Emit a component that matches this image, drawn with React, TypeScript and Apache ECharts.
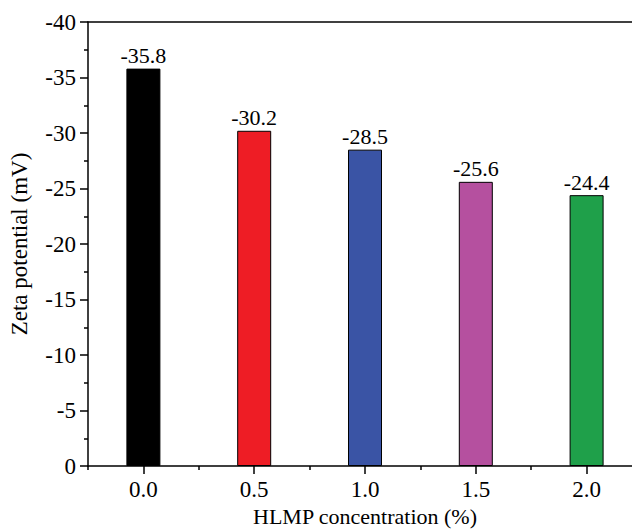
import React, { useEffect, useRef } from "react";
import * as echarts from "echarts";

const categories = ["0.0", "0.5", "1.0", "1.5", "2.0"];
const values = [-35.8, -30.2, -28.5, -25.6, -24.4];
const barColors = ["#000000", "#EE1D25", "#3A54A5", "#B5509F", "#1FA04A"];
const yTitle = "Zeta potential (mV)";
const xTitle = "HLMP concentration (%)";

const FONT = "'Liberation Serif', 'Times New Roman', serif";

export default function App() {
  const ref = useRef<HTMLDivElement>(null);
  useEffect(() => {
    if (!ref.current) return;
    const chart = echarts.init(ref.current, undefined, { renderer: "svg" });
    const textStyle = { fontFamily: FONT, fontSize: 23, color: "#000" };
    chart.setOption({
      animation: false,
      backgroundColor: "#fff",
      textStyle,
      grid: { left: 88, right: -10, top: 22, bottom: 63, containLabel: false, outerBoundsMode: "none" },
      xAxis: [
        {
          type: "category",
          data: categories,
          position: "bottom",
          name: xTitle,
          nameLocation: "middle",
          nameGap: 37,
          nameTextStyle: { ...textStyle, fontSize: 22 },
          axisLine: { show: true, lineStyle: { color: "#000", width: 1.5 } },
          axisTick: { show: true, alignWithLabel: true, length: 8, inside: false, lineStyle: { color: "#000", width: 1.5 } },
          axisLabel: { ...textStyle, margin: 12 },
          splitLine: { show: false },
        },
        {
          type: "category",
          data: categories,
          position: "bottom",
          axisLine: { show: false },
          axisTick: { show: true, alignWithLabel: false, length: 4, lineStyle: { color: "#000", width: 1.5 } },
          axisLabel: { show: false },
          splitLine: { show: false },
        },
        {
          type: "category",
          data: categories,
          position: "top",
          axisLine: { show: true, lineStyle: { color: "#000", width: 1.5 } },
          axisTick: { show: false },
          axisLabel: { show: false },
          splitLine: { show: false },
        },
      ],
      yAxis: {
        type: "value",
        min: -40,
        max: 0,
        interval: 5,
        inverse: true,
        name: yTitle,
        nameLocation: "middle",
        nameGap: 57,
        nameTextStyle: { ...textStyle, fontSize: 23 },
        axisLine: { show: true, lineStyle: { color: "#000", width: 1.5 } },
        axisTick: { show: true, length: 8, lineStyle: { color: "#000", width: 1.5 } },
        minorTick: { show: true, splitNumber: 2, length: 4, lineStyle: { color: "#000", width: 1.5 } },
        axisLabel: { ...textStyle, margin: 12 },
        splitLine: { show: false },
      },
      series: [
        {
          type: "bar",
          xAxisIndex: 0,
          barWidth: 34,
          data: values.map((v, i) => ({
            value: v,
            itemStyle: { color: barColors[i], borderColor: "#000", borderWidth: 1 },
          })),
          label: {
            show: true,
            position: "top",
            distance: 2,
            ...textStyle,
            fontSize: 22,
            formatter: (p: any) => Number(p.value).toFixed(1),
          },
        },
      ],
    });
    return () => chart.dispose();
  }, []);
  return (
    <div style={{ position: "fixed", left: 0, top: 0, width: 632, height: 529, overflow: "hidden", background: "#fff" }}>
      <div ref={ref} style={{ width: 632, height: 529 }} />
    </div>
  );
}
